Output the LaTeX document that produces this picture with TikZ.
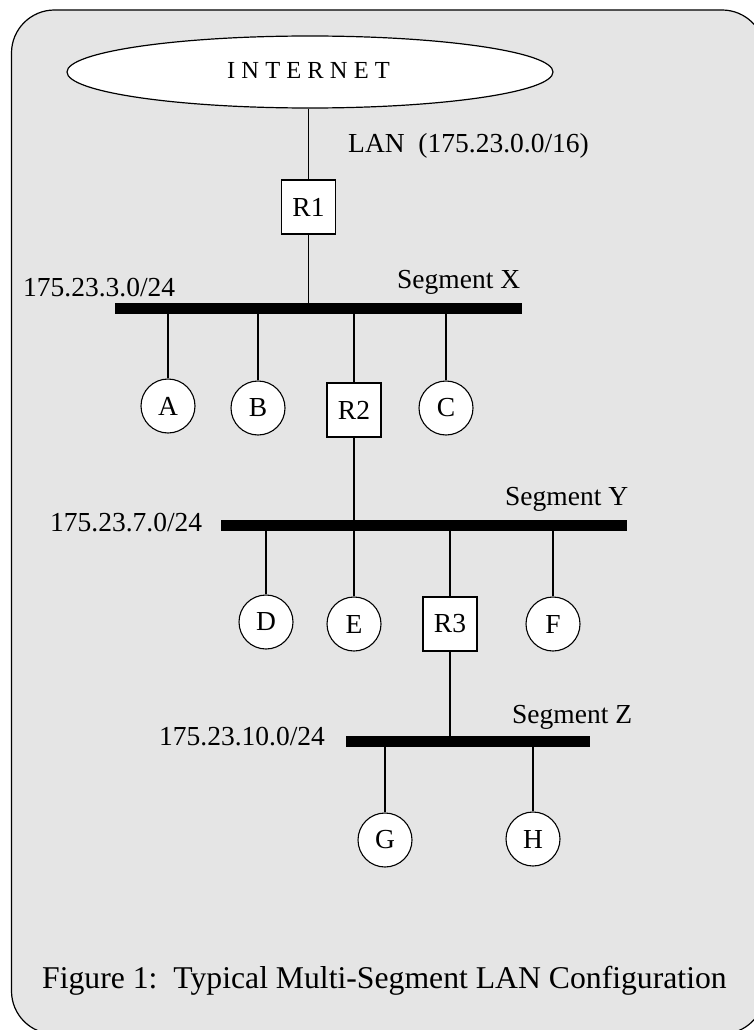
\documentclass[tikz,border=0pt]{standalone}
\usepackage{fontspec}
\setmainfont{Liberation Serif}
\usetikzlibrary{shapes.geometric}
\definecolor{bggray}{HTML}{E5E5E5}
\newcommand{\lblfont}{\fontsize{27.5}{30}\selectfont}
\newcommand{\capfont}{\fontsize{31.7}{34}\selectfont}
\newcommand{\netfont}{\fontsize{24.5}{27}\selectfont}
\tikzset{
  host/.style={circle, draw, fill=white, line width=1.1pt, minimum size=54pt, inner sep=0pt, font=\lblfont},
  router/.style={rectangle, draw, fill=white, line width=1.1pt, minimum width=54pt, minimum height=54pt, inner sep=0pt, font=\lblfont},
  segbar/.style={rectangle, fill=black, inner sep=0pt, minimum height=11pt},
  lbl/.style={anchor=base west, inner sep=0pt, font=\lblfont},
  link/.style={line width=1.1pt}
}
\begin{document}
\begin{tikzpicture}[x=1pt,y=-1pt]
\useasboundingbox (0,0) rectangle (754,1030);
\clip (0,0) rectangle (754,1030);
\draw[fill=bggray, line width=1.2pt, rounded corners=43pt] (11.5,10) rectangle (765,1034);

% Internet cloud
\node[ellipse, draw, fill=white, line width=1.2pt, minimum width=486pt, minimum height=72pt, inner sep=0pt] (inet) at (310,72) {};
\node[anchor=base, inner sep=0pt, font=\netfont] (inettxt) at (308.5,79) {I N T E R N E T};
\node[lbl] (lan) at (348,153) {LAN\ \ (175.23.0.0/16)};

% Routers
\node[router] (R1) at (308.5,207) {R1};
\node[router] (R2) at (354,410) {R2};
\node[router] (R3) at (450,624) {R3};

% Segment bars
\node[segbar, minimum width=407pt] (segX) at (318.5,308.5) {};
\node[segbar, minimum width=406pt] (segY) at (424,525.5) {};
\node[segbar, minimum width=244pt] (segZ) at (468,741.5) {};

% Segment labels
\node[lbl] (netX) at (23,296) {175.23.3.0/24};
\node[lbl] (nameX) at (397,288) {Segment X};
\node[lbl] (netY) at (50,531) {175.23.7.0/24};
\node[lbl] (nameY) at (505,505) {Segment Y};
\node[lbl] (netZ) at (159,745) {175.23.10.0/24};
\node[lbl] (nameZ) at (512,723) {Segment Z};

% Hosts
\node[host] (A) at (168,406) {A};
\node[host] (B) at (258,408) {B};
\node[host] (C) at (446,408) {C};
\node[host] (D) at (266,622) {D};
\node[host] (E) at (354,624) {E};
\node[host] (F) at (553,624) {F};
\node[host] (G) at (385,840) {G};
\node[host] (H) at (533,839) {H};

% Links
\draw[link] (R1.north |- inet.south) -- (R1.north);
\draw[link] (R1.south) -- (R1.south |- segX.center);
\draw[link] (A.north) -- (A.north |- segX.center);
\draw[link] (B.north) -- (B.north |- segX.center);
\draw[link] (R2.north) -- (R2.north |- segX.center);
\draw[link] (C.north) -- (C.north |- segX.center);
\draw[link] (R2.south) -- (R2.south |- segY.center);
\draw[link] (D.north) -- (D.north |- segY.center);
\draw[link] (E.north) -- (E.north |- segY.center);
\draw[link] (R3.north) -- (R3.north |- segY.center);
\draw[link] (F.north) -- (F.north |- segY.center);
\draw[link] (R3.south) -- (R3.south |- segZ.center);
\draw[link] (G.north) -- (G.north |- segZ.center);
\draw[link] (H.north) -- (H.north |- segZ.center);

% Caption
\node[anchor=base west, inner sep=0pt, font=\capfont] (caption) at (42,988) {Figure 1:\ \ Typical Multi-Segment LAN Configuration};
\end{tikzpicture}
\end{document}
